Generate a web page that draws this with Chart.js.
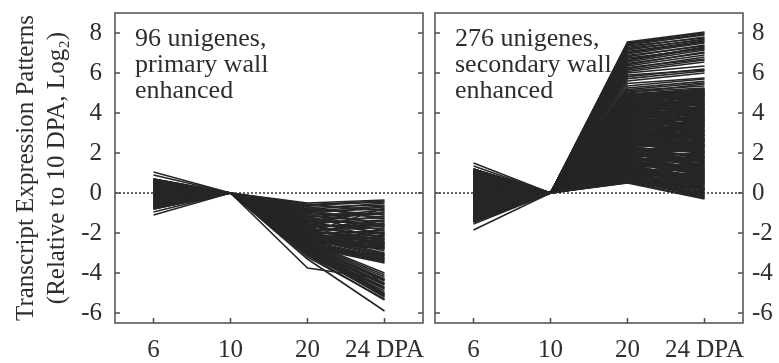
<!DOCTYPE html>
<html>
<head>
<meta charset="utf-8">
<script src="https://cdn.jsdelivr.net/npm/chart.js@4"></script>
<style>
	body { margin: 0; background: #fff; overflow: hidden; }
	#wrap { position: relative; width: 779px; height: 363px; }
	canvas { position: absolute; top: 0; }
</style>
</head>
<body>
<div id="wrap">
	<canvas id="primaryCanvas" width="429" height="363" style="left:0"></canvas>
	<canvas id="secondaryCanvas" width="350" height="363" style="left:429px"></canvas>
</div>
<script>
const dayLabels = ["6", "10", "20", "24 DPA"];
const yTickValues = [-6, -4, -2, 0, 2, 4, 6, 8];
const day10Value = 0; // everything is relative to 10 DPA

const primaryNote = ["96 unigenes,", "primary wall", "enhanced"];
const secondaryNote = ["276 unigenes,", "secondary wall", "enhanced"];
const yTitle = ["Transcript Expression Patterns", "(Relative to 10 DPA, Log₂)"];

// 96 primary wall enhanced unigenes
const primaryDay6 = [
	1.05, -0.4, 0.15, -0.7, 0.45, -0.2, 0.6, -0.55, 0.05, -0.8, 0.3, -0.1,
	0.9, -0.65, 0.25, -0.35, 0.55, -0.75, 0.0, -0.25, 0.65, -0.5, 0.2, -0.05,
	-1.1, 0.4, -0.6, 0.1, -0.3, 0.7, -0.45, 0.35, -0.15, 0.5, -0.7, 0.15,
	-0.95, 0.6, -0.2, 0.25, -0.55, 0.45, -0.8, 0.05, -0.4, 0.65, -0.1, 0.3,
	0.5, -0.35, 0.7, -0.65, 0.1, -0.15, 0.55, -0.75, 0.35, -0.5, 0.2, -0.3,
	-0.6, 0.15, -0.05, 0.65, -0.45, 0.4, -0.25, 0.6, -0.7, 0.0, 0.3, -0.55,
	0.25, -0.75, 0.45, -0.1, 0.7, -0.4, 0.05, -0.6, 0.55, -0.2, 0.35, -0.8,
	-0.15, 0.5, -0.5, 0.3, -0.35, 0.6, -0.65, 0.2, -0.05, 0.45, -0.3, 0.1,
];
const primaryDay20 = [
	-0.5, -0.55, -0.62, -0.68, -0.71, -0.78, -0.83, -0.88, -0.92, -0.97,
	-1.02, -1.05, -1.1, -1.14, -1.18, -1.22, -1.25, -1.31, -1.35, -1.38,
	-1.42, -1.46, -1.5, -1.53, -1.57, -1.6, -1.64, -1.68, -1.71, -1.75,
	-1.78, -1.82, -1.85, -1.88, -1.92, -1.95, -1.98, -2.02, -2.05, -2.08,
	-2.11, -2.14, -2.17, -2.2, -2.22, -2.25, -2.27, -2.3, -2.32, -2.35,
	-2.37, -2.4, -2.42, -2.45, -0.58, -0.9, -1.2, -1.65, -2.0, -2.3,
	-2.0, -2.1, -2.2, -2.25, -2.3, -2.4, -2.45, -2.5, -2.55, -2.6, -2.65, -2.7, -2.75, -2.8,
	-2.45, -2.5, -2.55, -2.6, -2.65, -2.7, -2.75, -2.8, -2.85, -2.9, -2.95, -3.0, -3.05, -3.1,
	-2.6, -2.8, -3.0, -3.2,
	-3.75, -3.3, -3.1, -2.95,
];
const primaryDay24 = [
	-0.35, -0.9, -0.45, -1.3, -0.6, -1.1, -0.5, -1.6, -0.8, -1.2,
	-0.7, -1.9, -1.0, -1.45, -2.1, -0.85, -1.7, -1.25, -2.3, -1.55,
	-0.95, -2.0, -1.35, -2.45, -1.8, -1.15, -2.2, -1.65, -2.55, -1.4,
	-2.05, -2.6, -1.75, -2.35, -1.5, -2.7, -2.15, -1.95, -2.5, -1.85,
	-2.65, -2.25, -2.75, -2.4, -2.0, -2.8, -2.3, -2.6, -2.1, -2.7,
	-2.45, -2.75, -2.55, -2.8, -0.4, -0.65, -1.05, -1.6, -0.75, -2.5,
	-2.9, -3.0, -3.05, -3.1, -3.15, -3.2, -3.25, -3.3, -3.35, -3.4, -3.45, -3.5, -3.3, -3.1,
	-4.0, -4.1, -4.2, -4.3, -4.35, -4.4, -4.5, -4.55, -4.6, -4.7, -4.75, -4.8, -4.9, -5.0,
	-5.05, -5.1, -5.2, -5.3,
	-4.3, -5.9, -5.35, -5.15,
];

// 276 secondary wall enhanced unigenes
const secondaryDay6 = [
	1.5, -0.4, 0.15, -1.1, 0.55, -0.75, 1.05, -0.2, 0.3, -1.3, 0.7, -0.05,
	0.9, -0.6, 0.05, -0.95, 0.4, 1.15, -0.3, -1.4, 0.65, -0.1, 0.2, -0.85,
	1.35, -0.5, 0.8, -1.2, 0.1, -0.7, 0.95, -0.15, 0.45, -1.0, 0.25, -0.35,
	-1.85, 0.6, -0.25, 1.1, -0.9, 0.35, -1.35, 0.75, -0.45, 0.0, -1.15, 0.5,
	1.0, -0.65, 0.2, -1.25, 0.85, -0.1, 0.4, -0.8, 1.2, -0.55, 0.05, -1.05,
	-1.55, 0.7, -0.3, 0.95, -0.95, 0.25, -1.4, 0.55, -0.2, 1.1, -0.7, 0.15,
	0.3, -1.3, 0.9, -0.4, 0.6, -1.1, 0.1, -0.6, 1.05, -0.25, 0.45, -0.85,
	-0.05, 0.8, -1.2, 0.35, -0.5, 1.15, -0.9, 0.2, -1.45, 0.65, -0.15, 0.95,
	0.5, -0.75, 0.15, -1.0, 0.75, -0.35, 1.0, -1.25, 0.4, -0.6, 0.85, -0.1,
	-0.95, 0.25, -0.45, 1.2, -1.15, 0.6, -0.2, 0.9, -0.7, 0.05, -1.35, 0.7,
	0.15, -0.55, 1.1, -0.85, 0.45, -1.2, 0.8, -0.3, 0.0, -1.05, 0.55, -0.65,
	1.05, -0.15, 0.35, -1.3, 0.65, -0.45, 0.95, -0.9, 0.2, -0.7, 1.15, -1.4,
	-0.25, 0.9, -1.1, 0.5, -0.6, 0.1, -0.95, 0.75, -0.4, 1.0, -1.25, 0.3,
	0.6, -0.8, 0.25, -1.35, 0.85, -0.05, 0.4, -1.15, 1.1, -0.5, 0.15, -0.75,
	-0.35, 0.45, -1.0, 0.95, -0.2, 0.7, -1.45, 0.3, -0.65, 1.2, -0.1, 0.55,
	0.8, -1.2, 0.0, -0.55, 1.05, -0.85, 0.5, -0.3, 0.2, -1.1, 0.65, -0.45,
	-0.7, 0.35, -1.3, 0.85, -0.15, 0.6, -1.0, 1.15, -0.4, 0.1, -0.9, 0.75,
	0.4, -0.95, 1.0, -0.25, 0.55, -1.4, 0.2, -0.65, 0.9, -0.05, -1.2, 0.65,
	-0.5, 1.1, -0.8, 0.15, -1.05, 0.7, -0.35, 0.45, -1.25, 0.95, -0.15, 0.25,
	0.7, -0.3, 0.5, -1.15, 0.05, -0.6, 1.05, -0.9, 0.35, -1.35, 0.8, -0.2,
	-1.1, 0.55, -0.45, 0.9, -0.75, 0.25, -1.3, 1.15, -0.1, 0.6, -0.95, 0.4,
	0.1, -0.85, 0.75, -0.4, 1.2, -1.05, 0.3, -0.55, 0.65, -1.2, 0.0, 0.85,
	-0.6, 0.2, -1.45, 1.0, -0.25, 0.5, -0.8, 0.15, -1.15, 0.45, -0.35, 1.1,
];
const secondaryDay20 = [
	0.5, 0.55, 0.58, 0.62, 0.66, 0.7, 0.73, 0.77, 0.8, 0.84, 0.87, 0.9,
	0.93, 0.97, 1.0, 1.04, 1.08, 1.11, 1.15, 1.18, 1.22, 1.25, 1.29, 1.32,
	1.36, 1.4, 1.43, 1.47, 1.5, 1.54, 1.57, 1.61, 1.64, 1.68, 1.71, 1.75,
	1.78, 1.82, 1.85, 1.89, 1.92, 1.96, 1.99, 2.03, 2.06, 2.1, 2.13, 2.17,
	2.2, 2.24, 2.27, 2.31, 2.34, 2.38, 2.41, 2.45, 2.48, 2.52, 2.55, 2.59,
	2.62, 2.66, 2.69, 2.73, 2.76, 2.8, 2.83, 2.87, 2.9, 2.94, 2.97, 3.01,
	3.04, 3.08, 3.11, 3.15, 3.18, 3.22, 3.25, 3.29, 3.32, 3.36, 3.39, 3.43,
	3.46, 3.5, 3.53, 3.57, 3.6, 3.64, 3.67, 3.71, 3.74, 3.78, 3.81, 3.85,
	3.88, 3.92, 3.95, 3.99, 4.02, 4.06, 4.09, 4.13, 4.16, 4.2, 4.23, 4.27,
	4.3, 4.34, 4.37, 4.41, 4.44, 4.48, 4.51, 4.55, 4.58, 4.62, 4.65, 4.69,
	4.72, 4.76, 4.79, 4.83, 4.86, 4.9, 4.93, 4.95, 4.88, 4.81, 4.74, 4.67,
	0.52, 0.64, 0.75, 0.88, 0.99, 1.12, 1.24, 1.37, 1.49, 1.62, 1.74, 1.87,
	1.99, 2.12, 2.24, 2.37, 2.49, 2.62, 2.74, 2.87, 2.99, 3.12, 3.24, 3.37,
	3.49, 3.62, 3.74, 3.87, 3.99, 4.12, 4.24, 4.37, 4.49, 4.62, 4.74, 4.87,
	0.6, 0.71, 0.83, 0.95, 1.06, 1.18, 1.3, 1.41, 1.53, 1.65, 1.76, 1.88,
	2.0, 2.11, 2.23, 2.35, 2.46, 2.58, 2.7, 2.81, 2.93, 3.05, 3.16, 3.28,
	3.4, 3.51, 3.63, 3.75, 3.86, 3.98, 4.1, 4.21, 4.33, 4.45, 4.56, 4.68,
	0.56, 0.68, 0.79, 0.91, 1.02, 1.14, 1.26, 1.45, 1.66, 1.84, 2.05, 2.28,
	2.51, 2.72, 2.95, 3.18, 3.41, 3.66, 3.9, 4.14, 4.39, 4.6, 4.8, 4.92,
	0.54, 0.8, 1.07, 1.33, 1.58, 1.91, 2.21, 2.56, 2.88, 3.21, 3.58, 3.97,
	5.05, 5.12, 5.18, 5.25, 5.35, 5.48, 5.6, 5.72, 5.82, 5.9, 6.0, 6.08,
	6.15, 6.22, 6.28, 6.35, 6.42, 6.48, 6.55, 6.62, 6.68, 6.75, 6.82, 6.88,
	6.95, 7.02, 7.08, 7.15, 7.22, 7.28, 7.35, 7.4, 7.45, 7.5, 7.55, 5.0,
];
const secondaryDay24 = [
	-0.3, 0.1, -0.15, 0.35, -0.05, 0.2, -0.25, 0.5, 0.05, -0.1, 0.3, 0.15,
	0.4, -0.2, 0.7, 0.25, 0.95, 0.0, 0.6, 1.1, 0.45, 0.85, 0.2, 1.25,
	0.75, 1.4, 0.55, 1.15, 1.6, 0.9, 1.35, 0.65, 1.8, 1.05, 1.55, 1.2,
	1.45, 2.0, 1.0, 1.7, 2.25, 1.3, 1.9, 2.4, 1.65, 2.1, 1.5, 2.3,
	1.85, 2.55, 2.05, 2.7, 1.75, 2.45, 2.9, 2.15, 2.65, 2.35, 3.05, 2.5,
	2.8, 2.2, 3.15, 2.6, 3.3, 2.75, 3.0, 2.4, 3.45, 2.95, 3.2, 2.85,
	3.35, 2.7, 3.55, 3.1, 3.7, 2.9, 3.4, 3.8, 3.25, 3.6, 3.05, 3.9,
	3.5, 4.0, 3.3, 3.85, 4.15, 3.65, 4.05, 3.45, 4.25, 3.75, 4.35, 3.95,
	4.1, 3.7, 4.45, 4.2, 3.9, 4.55, 4.3, 4.65, 4.0, 4.4, 4.75, 4.5,
	4.6, 4.85, 4.25, 4.7, 4.95, 4.45, 4.8, 5.0, 4.55, 4.9, 5.05, 4.7,
	5.1, 4.9, 5.15, 4.75, 5.2, 5.0, 5.15, 5.2, 4.95, 5.1, 4.85, 5.05,
	0.25, -0.1, 0.55, 0.15, 0.8, 0.45, 1.05, 0.7, 1.3, 0.95, 1.6, 1.15,
	1.4, 2.05, 1.6, 2.3, 1.95, 2.6, 2.25, 2.9, 2.55, 3.2, 2.75, 3.5,
	3.15, 3.8, 3.4, 4.1, 3.6, 4.3, 3.85, 4.6, 4.2, 4.85, 4.4, 5.0,
	0.0, 0.6, -0.2, 0.85, 0.3, 1.15, 0.5, 1.4, 0.9, 1.7, 1.1, 1.95,
	1.55, 2.35, 1.8, 2.6, 2.1, 2.85, 2.4, 3.1, 2.65, 3.35, 2.9, 3.6,
	3.1, 3.7, 3.35, 3.95, 3.55, 4.2, 3.8, 4.45, 4.05, 4.65, 4.35, 4.9,
	0.6, 0.2, 1.0, 0.55, 1.25, 0.75, 1.5, 1.05, 1.85, 1.35, 2.15, 1.75,
	2.45, 2.05, 2.7, 3.4, 2.95, 3.65, 4.15, 3.75, 4.5, 4.15, 4.65, 5.15,
	-0.25, 0.4, 0.15, 0.65, 1.2, 0.8, 1.75, 2.0, 2.35, 2.7, 3.05, 3.55,
	5.25, 5.35, 5.5, 5.58, 5.7, 5.75, 6.0, 6.1, 6.2, 6.15, 6.35, 6.55,
	6.65, 6.8, 6.7, 6.9, 7.05, 7.0, 7.15, 7.25, 7.3, 7.2, 7.4, 7.35,
	7.5, 7.55, 7.6, 7.7, 7.65, 7.8, 7.75, 7.9, 7.95, 8.0, 8.05, 5.45,
];

const serif = "'Liberation Serif', 'Times New Roman', serif";
const inkColor = "#262626";
const frameColor = "#4d4d4d";
const textColor = "#2e2e2e";

function buildDatasets(day6, day20, day24) {
	return day6.map((v, i) => ({
		data: [v, day10Value, day20[i], day24[i]],
		borderColor: inkColor,
		borderWidth: 1.6,
		pointRadius: 0,
		tension: 0,
		fill: false,
	}));
}

// frame, inward ticks, dotted zero line and the panel note
function framePlugin(note) {
	return {
		id: "frame",
		beforeDatasetsDraw(chart) {
			const { ctx, chartArea: a, scales } = chart;
			const y0 = scales.y.getPixelForValue(0);
			ctx.save();
			ctx.strokeStyle = "#666";
			ctx.lineWidth = 2;
			ctx.setLineDash([2, 2]);
			ctx.beginPath();
			ctx.moveTo(a.left, y0);
			ctx.lineTo(a.right, y0);
			ctx.stroke();
			ctx.restore();
		},
		afterDraw(chart) {
			const { ctx, chartArea: a, scales } = chart;
			ctx.save();
			ctx.strokeStyle = frameColor;
			ctx.lineWidth = 1.5;
			ctx.strokeRect(a.left, a.top, a.right - a.left, a.bottom - a.top);
			ctx.beginPath();
			for (const v of yTickValues) {
				const py = scales.y.getPixelForValue(v);
				ctx.moveTo(a.left, py);
				ctx.lineTo(a.left + 5, py);
				ctx.moveTo(a.right, py);
				ctx.lineTo(a.right - 5, py);
			}
			dayLabels.forEach((_, i) => {
				const px = scales.x.getPixelForTick(i);
				ctx.moveTo(px, a.bottom);
				ctx.lineTo(px, a.bottom - 5);
			});
			ctx.stroke();

			ctx.fillStyle = textColor;
			ctx.font = `26px ${serif}`;
			ctx.textAlign = "left";
			ctx.textBaseline = "alphabetic";
			note.forEach((line, i) => {
				ctx.fillText(line, a.left + 20, 46 + i * 26);
			});
			ctx.restore();
		},
	};
}

function createPanel(canvasId, datasets, note, side) {
	const ctx = document.getElementById(canvasId).getContext("2d");
	const isLeft = side === "left";
	new Chart(ctx, {
		type: "line",
		data: { labels: dayLabels, datasets: datasets },
		options: {
			responsive: false,
			animation: false,
			events: [],
			layout: {
				padding: isLeft
					? { top: 13, right: 6, bottom: 0, left: 0 }
					: { top: 13, right: 0, bottom: 0, left: 6 },
			},
			plugins: {
				legend: { display: false },
				tooltip: { enabled: false },
			},
			scales: {
				x: {
					type: "category",
					offset: true,
					grid: { display: false, drawTicks: false },
					border: { display: false },
					ticks: {
						color: textColor,
						font: { family: serif, size: 25 },
						padding: 12,
						maxRotation: 0,
						autoSkip: false,
					},
					afterFit(scale) {
						scale.height = 40;
						scale.paddingLeft = 0;
						scale.paddingRight = 0;
					},
				},
				y: {
					position: side,
					min: -6.5,
					max: 9,
					grid: { display: false, drawTicks: false },
					border: { display: false },
					afterBuildTicks(scale) {
						scale.ticks = yTickValues.map((v) => ({ value: v }));
					},
					ticks: {
						display: true,
						color: textColor,
						font: { family: serif, size: 25 },
						padding: isLeft ? 13 : 9,
					},
					title: {
						display: isLeft,
						text: yTitle,
						color: textColor,
						font: { family: serif, size: 25, lineHeight: 1.25 },
						padding: { top: 11, bottom: 0 },
					},
					afterFit(scale) {
						scale.width = isLeft ? 115 : 36;
						scale.paddingTop = 0;
						scale.paddingBottom = 0;
					},
				},
			},
		},
		plugins: [framePlugin(note)],
	});
}

createPanel(
	"primaryCanvas",
	buildDatasets(primaryDay6, primaryDay20, primaryDay24),
	primaryNote,
	"left",
);
createPanel(
	"secondaryCanvas",
	buildDatasets(secondaryDay6, secondaryDay20, secondaryDay24),
	secondaryNote,
	"right",
);
</script>
</body>
</html>
